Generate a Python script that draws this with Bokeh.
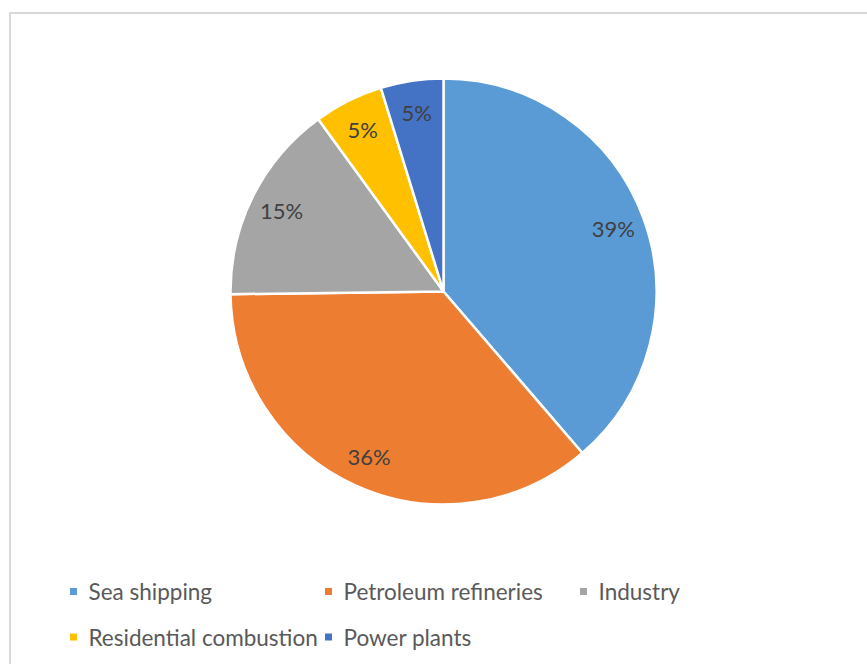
import math
from bokeh.plotting import figure
from bokeh.models import Range1d, ColumnDataSource
from bokeh.core.properties import value
from bokeh.embed import file_html
from bokeh.resources import INLINE

# ---- data ----
categories = ["Sea shipping", "Petroleum refineries", "Industry",
              "Residential combustion", "Power plants"]
shares = [38.7, 36.1, 15.2, 5.25, 4.75]
colors = ["#5B9BD5", "#ED7D31", "#A5A5A5", "#FFC000", "#4472C4"]
label_texts = ["39%", "36%", "15%", "5%", "5%"]

W, H = 867, 664
FONT = "Lato"

p = figure(width=W, height=H, output_backend="svg", toolbar_location=None,
           x_range=Range1d(0, W), y_range=Range1d(0, H),
           x_axis_type=None, y_axis_type=None, min_border=0,
           background_fill_color="white", border_fill_color="white")
p.grid.visible = False
p.outline_line_color = None

# chart-area border (top & left visible)
p.line(x=[9.5, 9.5, W + 20], y=[-20, H - 12.5, H - 12.5],
       line_color="#d9d9d9", line_width=2)

cx, cy, r = 443, H - 291, 213
total = sum(shares)
starts, ends, lx, ly = [], [], [], []
cum = 0.0
for s in shares:
    a0 = math.pi / 2 - 2 * math.pi * cum / total
    a1 = math.pi / 2 - 2 * math.pi * (cum + s) / total
    starts.append(a0)
    ends.append(a1)
    mid = (a0 + a1) / 2
    lx.append(cx + 0.85 * r * math.cos(mid))
    ly.append(cy + 0.85 * r * math.sin(mid))
    cum += s

src = ColumnDataSource(dict(start=starts, end=ends, color=colors,
                            lx=lx, ly=ly, lab=label_texts))
p.wedge(x=cx, y=cy, radius=r, start_angle="start", end_angle="end",
        direction="clock", fill_color="color", line_color="white",
        line_width=2.5, source=src)
p.text(x="lx", y="ly", text="lab", source=src, text_align="center",
       text_baseline="middle", text_color="#404040",
       text_font=value(FONT), text_font_size="22px")

# legend (3 columns, 2 rows)
sq_x, sq_y, tx = [], [], []
for i, c in enumerate(categories):
    col, row = i % 3, i // 3
    sq_x.append(73 + col * 255)
    sq_y.append(H - (591 + row * 45.5))
    tx.append(88 + col * 255)
lsrc = ColumnDataSource(dict(x=sq_x, y=sq_y, tx=tx, name=categories,
                             color=colors))
p.rect(x="x", y="y", width=7, height=7, fill_color="color",
       line_color=None, source=lsrc)
p.text(x="tx", y="y", text="name", source=lsrc, text_align="left",
       text_baseline="middle", text_color="#595959",
       text_font=value(FONT), text_font_size="22.5px")

open("out.html", "w").write(file_html(p, INLINE))
